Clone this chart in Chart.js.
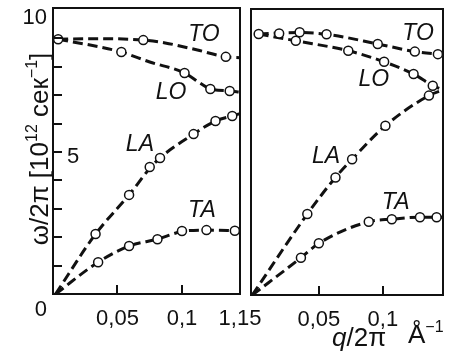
<!DOCTYPE html>
<html><head><meta charset="utf-8">
<script src="https://cdn.jsdelivr.net/npm/chart.js@4"></script>
<style>
html,body{margin:0;padding:0;background:#fff;}
#wrap{position:relative;width:461px;height:357px;background:#fff;}
#wrap canvas{position:absolute;left:0;top:0;}
</style></head><body>
<div id="wrap"><canvas id="cL" width="461" height="357"></canvas><canvas id="cR" width="461" height="357"></canvas></div>
<script>
// ---------- data ----------
const branches = ['TO', 'LO', 'LA', 'TA'];

// Left panel — measured points (q/2π in Å⁻¹, ω/2π in 10¹² s⁻¹)
const qTO_L = [0.004, 0.070, 0.134];
const wTO_L = [8.97, 8.94, 8.35];
const qLO_L = [0.053, 0.102, 0.122, 0.137];
const wLO_L = [8.52, 7.78, 7.22, 7.15];
const qLA_L = [0.033, 0.059, 0.075, 0.083, 0.109, 0.126, 0.139];
const wLA_L = [2.11, 3.49, 4.47, 4.79, 5.63, 6.09, 6.27];
const qTA_L = [0.035, 0.059, 0.081, 0.100, 0.119, 0.141];
const wTA_L = [1.12, 1.69, 1.93, 2.22, 2.25, 2.23];
// Left panel — dashed curves as drawn
const cqTO_L = [0.004, 0.035, 0.070, 0.087, 0.112, 0.134, 0.145];
const cwTO_L = [8.97, 8.99, 8.94, 8.84, 8.59, 8.35, 8.32];
const cqLO_L = [0.004, 0.036, 0.053, 0.075, 0.102, 0.114, 0.122, 0.137, 0.145];
const cwLO_L = [8.97, 8.70, 8.52, 8.17, 7.78, 7.43, 7.22, 7.15, 7.11];
const cqLA_L = [0.002, 0.033, 0.059, 0.079, 0.109, 0.126, 0.139, 0.145];
const cwLA_L = [0, 2.11, 3.49, 4.62, 5.63, 6.09, 6.27, 6.35];
const cqTA_L = [0.002, 0.035, 0.059, 0.081, 0.100, 0.119, 0.145];
const cwTA_L = [0, 1.12, 1.69, 1.93, 2.20, 2.25, 2.23];

// Right panel — measured points
const qTO_R = [0.003, 0.019, 0.035, 0.056, 0.096, 0.125, 0.143];
const wTO_R = [9.19, 9.21, 9.25, 9.18, 8.84, 8.57, 8.48];
const qLO_R = [0.032, 0.073, 0.101, 0.124, 0.139];
const wLO_R = [8.95, 8.60, 8.21, 7.78, 7.37];
const qLA_R = [0.041, 0.063, 0.076, 0.102, 0.136];
const wLA_R = [2.85, 4.14, 4.78, 5.96, 7.02];
const qTA_R = [0.036, 0.050, 0.089, 0.107, 0.129, 0.142];
const wTA_R = [1.31, 1.82, 2.58, 2.67, 2.74, 2.74];
// Right panel — dashed curves as drawn
const cqTO_R = [0.003, 0.035, 0.056, 0.096, 0.125, 0.147];
const cwTO_R = [9.19, 9.24, 9.18, 8.84, 8.57, 8.46];
const cqLO_R = [0.003, 0.032, 0.073, 0.101, 0.124, 0.139, 0.147];
const cwLO_R = [9.19, 8.95, 8.60, 8.21, 7.78, 7.37, 7.22];
const cqLA_R = [-0.002, 0.041, 0.063, 0.076, 0.102, 0.136, 0.147];
const cwLA_R = [0, 2.85, 4.14, 4.78, 5.96, 7.02, 7.22];
const cqTA_R = [-0.002, 0.036, 0.050, 0.089, 0.107, 0.129, 0.147];
const cwTA_R = [0, 1.31, 1.82, 2.58, 2.67, 2.74, 2.74];

// Tick values and labels
const xTickValsL = [0.05, 0.1, 0.145];
const xTickTextL = ['0,05', '0,1', '1,15'];
const xTickValsR = [0.05, 0.1];
const xTickTextR = ['0,05', '0,1'];
const xMarkVals = [0.05, 0.1];
const yMarkValsL = [1, 2, 3, 4, 5, 6, 7, 8, 9];
const yTickTextL = ['0', '5', '10'];
const yTitleParts = ['ω/2π [10', '12', ' сек', '−1', ']'];
const xTitleParts = ['q', '/2π', 'Å', '−1'];

// ---------- rendering ----------
const INK = '#111';
const FAM = "'Liberation Sans', Arial, sans-serif";
const zip = (a, b) => a.map((v, i) => ({ x: v, y: b[i] }));

function drawRich(ctx, segs, x, y, align) {
  const w = segs.map(s => { ctx.font = s.font; return ctx.measureText(s.t).width; });
  const total = w.reduce((a, b) => a + b, 0);
  let cx = align === 'center' ? x - total / 2 : x;
  ctx.textAlign = 'left';
  ctx.textBaseline = 'alphabetic';
  segs.forEach((s, i) => { ctx.font = s.font; ctx.fillText(s.t, cx, y + (s.dy || 0)); cx += w[i]; });
}

function makeDecor(o) {
  return {
    id: 'decor',
    afterDraw(chart) {
      const { ctx, chartArea: a, scales: { x, y } } = chart;
      ctx.save();
      ctx.setLineDash([]);
      ctx.strokeStyle = INK;
      ctx.lineWidth = 2;
      ctx.strokeRect(a.left, a.top, a.right - a.left, a.bottom - a.top);
      ctx.beginPath();
      (o.yMarks || []).forEach(v => {
        const py = Math.round(y.getPixelForValue(v));
        ctx.moveTo(a.left, py); ctx.lineTo(a.left + 9, py);
      });
      (o.xMarks || []).forEach(v => {
        const px = Math.round(x.getPixelForValue(v));
        ctx.moveTo(px, a.bottom); ctx.lineTo(px, a.bottom - 9);
      });
      ctx.stroke();
      ctx.fillStyle = INK;
      (o.labels || []).forEach((t, i) => {
        ctx.font = 'italic 23px ' + FAM;
        ctx.textAlign = 'center'; ctx.textBaseline = 'middle';
        ctx.fillText(branches[i], x.getPixelForValue(t[0]), y.getPixelForValue(t[1]));
      });
      if (o.yLabels) {
        ctx.font = '22px ' + FAM; ctx.textBaseline = 'middle';
        ctx.textAlign = 'right';
        ctx.fillText(yTickTextL[2], a.left - 6, y.getPixelForValue(10) + 8);
        ctx.fillText(yTickTextL[0], a.left - 6, y.getPixelForValue(0) + 16);
        ctx.textAlign = 'center';
        ctx.fillText(yTickTextL[1], a.left + 20, y.getPixelForValue(5) + 5);
        ctx.save();
        ctx.translate(a.left - 5, (a.top + a.bottom) / 2 - 2);
        ctx.rotate(-Math.PI / 2);
        drawRich(ctx, [
          { t: yTitleParts[0], font: '26px ' + FAM },
          { t: yTitleParts[1], font: '16px ' + FAM, dy: -11 },
          { t: yTitleParts[2], font: '26px ' + FAM },
          { t: yTitleParts[3], font: '16px ' + FAM, dy: -11 },
          { t: yTitleParts[4], font: '26px ' + FAM }
        ], 0, 0, 'center');
        ctx.restore();
      }
      if (o.xTitle) {
        drawRich(ctx, [
          { t: xTitleParts[0], font: 'italic 26px ' + FAM },
          { t: xTitleParts[1], font: '26px ' + FAM }
        ], a.left + 81, a.bottom + 51, 'left');
        drawRich(ctx, [
          { t: xTitleParts[2], font: '26px ' + FAM },
          { t: xTitleParts[3], font: '16px ' + FAM, dy: -11 }
        ], a.left + 157, a.bottom + 48, 'left');
      }
      ctx.restore();
    }
  };
}

function datasets(curves, points) {
  const ds = [];
  curves.forEach(c => ds.push({
    data: c, showLine: true, borderColor: INK, borderWidth: 3, borderDash: [10, 5],
    pointRadius: 0, cubicInterpolationMode: 'monotone', fill: false, order: 2
  }));
  points.forEach(p => ds.push({
    data: p, showLine: false, pointRadius: 4.5, pointBorderWidth: 1.5,
    pointBackgroundColor: '#fff', pointBorderColor: INK, order: 1
  }));
  return ds;
}

function makeChart(id, opt) {
  return new Chart(document.getElementById(id), {
    type: 'scatter',
    data: { datasets: datasets(opt.curves, opt.points) },
    options: {
      responsive: false, animation: false, events: [],
      layout: { padding: opt.padding },
      plugins: { legend: { display: false }, tooltip: { enabled: false } },
      scales: {
        x: {
          type: 'linear', min: opt.xMin, max: opt.xMax,
          grid: { display: false }, border: { display: false },
          afterBuildTicks: s => { s.ticks = opt.xTicks.map(v => ({ value: v })); },
          afterFit: s => { s.height = opt.xHeight; },
          ticks: {
            callback: (v, i) => opt.xText[i], autoSkip: false, maxRotation: 0,
            color: INK, font: { family: FAM, size: 22 }, padding: 4
          }
        },
        y: {
          type: 'linear', min: 0, max: 10.07, display: opt.yDisplay,
          grid: { display: false }, border: { display: false },
          ticks: { display: false },
          afterFit: s => { s.width = opt.yWidth; }
        }
      }
    },
    plugins: [makeDecor(opt.decor)]
  });
}

makeChart('cL', {
  curves: [zip(cqTO_L, cwTO_L), zip(cqLO_L, cwLO_L), zip(cqLA_L, cwLA_L), zip(cqTA_L, cwTA_L)],
  points: [zip(qTO_L, wTO_L), zip(qLO_L, wLO_L), zip(qLA_L, wLA_L), zip(qTA_L, wTA_L)],
  padding: { left: 0, top: 8, right: 221, bottom: 0 },
  xMin: 0, xMax: 0.145, xTicks: xTickValsL, xText: xTickTextL, xHeight: 63,
  yDisplay: true, yWidth: 53,
  decor: { yMarks: yMarkValsL, xMarks: xMarkVals, yLabels: true,
           labels: [[0.117, 9.15], [0.0915, 7.08], [0.0674, 5.25], [0.1155, 2.92]] }
});

makeChart('cR', {
  curves: [zip(cqTO_R, cwTO_R), zip(cqLO_R, cwLO_R), zip(cqLA_R, cwLA_R), zip(cqTA_R, cwTA_R)],
  points: [zip(qTO_R, wTO_R), zip(qLO_R, wLO_R), zip(qLA_R, wLA_R), zip(qTA_R, wTA_R)],
  padding: { left: 251, top: 9, right: 18, bottom: 0 },
  xMin: -0.003, xMax: 0.147, xTicks: xTickValsR, xText: xTickTextR, xHeight: 62,
  yDisplay: false, yWidth: 0,
  decor: { xMarks: xMarkVals, xTitle: true,
           labels: [[0.1275, 9.19], [0.093, 7.57], [0.0556, 4.86], [0.110, 3.24]] }
});
</script>
</body></html>
